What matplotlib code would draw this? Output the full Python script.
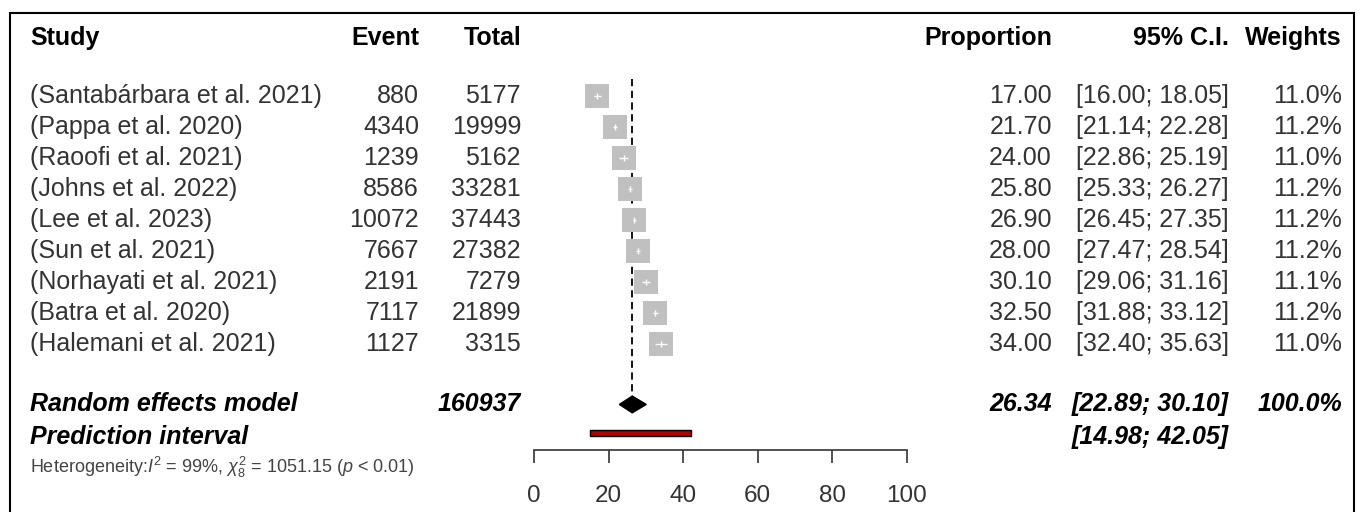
import matplotlib
matplotlib.use("Agg")
import matplotlib.pyplot as plt
from matplotlib.patches import Rectangle
from matplotlib.transforms import blended_transform_factory

plt.rcParams["font.family"] = ["Liberation Sans", "DejaVu Sans"]
plt.rcParams["mathtext.fontset"] = "custom"
plt.rcParams["mathtext.rm"] = "Liberation Sans"
plt.rcParams["mathtext.it"] = "Liberation Sans:italic"
plt.rcParams["mathtext.bf"] = "Liberation Sans:bold"

# study-level data
studies = [
    "(Santabárbara et al. 2021)",
    "(Pappa et al. 2020)",
    "(Raoofi et al. 2021)",
    "(Johns et al. 2022)",
    "(Lee et al. 2023)",
    "(Sun et al. 2021)",
    "(Norhayati et al. 2021)",
    "(Batra et al. 2020)",
    "(Halemani et al. 2021)",
]
events = [880, 4340, 1239, 8586, 10072, 7667, 2191, 7117, 1127]
totals = [5177, 19999, 5162, 33281, 37443, 27382, 7279, 21899, 3315]
props = [17.00, 21.70, 24.00, 25.80, 26.90, 28.00, 30.10, 32.50, 34.00]
ci_lo = [16.00, 21.14, 22.86, 25.33, 26.45, 27.47, 29.06, 31.88, 32.40]
ci_hi = [18.05, 22.28, 25.19, 26.27, 27.35, 28.54, 31.16, 33.12, 35.63]
weights = [11.0, 11.2, 11.0, 11.2, 11.2, 11.2, 11.1, 11.2, 11.0]

# pooled results
re_est, re_lo, re_hi = 26.34, 22.89, 30.10
pi_lo, pi_hi = 14.98, 42.05
total_n = 160937
xticks = [0, 20, 40, 60, 80, 100]

W, H = 1362, 512
fig = plt.figure(figsize=(W / 100, H / 100), dpi=100)

# forest panel: 0..100 spans pixels 534..907, rows spaced 31 px from y=96
ax = fig.add_axes([534 / W, (H - 450) / H, 373 / W, (450 - 13) / H])
ax.set_xlim(0, 100)
ax.set_ylim((450 - 96) / 31, (13 - 96) / 31)
for s in ["top", "right", "left"]:
    ax.spines[s].set_visible(False)
ax.spines["bottom"].set_bounds(0, 100)
ax.spines["bottom"].set_linewidth(1.2)
ax.spines["bottom"].set_color("#333333")
ax.set_yticks([])
ax.set_xticks(xticks)
ax.tick_params(axis="x", direction="out", length=9.5, width=1.2, colors="#333333",
               labelsize=17.5, pad=16)

rows = list(range(len(studies)))
re_row = 9.95
pi_row = 11.0

ax.vlines(re_est, -0.55, re_row - 0.2, colors="black", linewidth=1.3,
          linestyles=(0, (4, 2.5)))
ax.plot(props, rows, "s", color="#c0c0c0", markersize=17.5, markeredgewidth=0)
ax.hlines(rows, ci_lo, ci_hi, colors="white", linewidth=1)
ax.plot(props, rows, "|", color="white", markersize=5, markeredgewidth=1)

ax.fill([re_lo, re_est, re_hi, re_est],
        [re_row, re_row - 0.27, re_row, re_row + 0.27], color="black")
ax.barh(pi_row - 0.12, pi_hi - pi_lo, left=pi_lo, height=0.2,
        color="#b30000", edgecolor="black", linewidth=1)

tr = blended_transform_factory(fig.transFigure, ax.transData)
fs = 18
reg = "#333333"
off = 0.22


def put(x_px, row, s, ha="right", **kw):
    ax.text(x_px / W, row + off, s, transform=tr, ha=ha, va="baseline",
            fontsize=kw.pop("fontsize", fs), clip_on=False, **kw)


hdr = -1.85
put(30, hdr, "Study", ha="left", fontweight="bold", color="black")
put(419, hdr, "Event", fontweight="bold", color="black")
put(521, hdr, "Total", fontweight="bold", color="black")
put(1052, hdr, "Proportion", fontweight="bold", color="black")
put(1229, hdr, "95% C.I.", fontweight="bold", color="black")
put(1342, hdr, "Weights", fontweight="bold", color="black")

for i in rows:
    put(30, i, studies[i], ha="left", color=reg)
    put(419, i, f"{events[i]}", color=reg)
    put(521, i, f"{totals[i]}", color=reg)
    put(1052, i, f"{props[i]:.2f}", color=reg)
    put(1229, i, f"[{ci_lo[i]:.2f}; {ci_hi[i]:.2f}]", color=reg)
    put(1342, i, f"{weights[i]:.1f}%", color=reg)

bi = dict(fontweight="bold", fontstyle="italic", color="black")
put(30, re_row, "Random effects model", ha="left", **bi)
put(521, re_row, f"{total_n}", **bi)
put(1052, re_row, f"{re_est:.2f}", **bi)
put(1229, re_row, f"[{re_lo:.2f}; {re_hi:.2f}]", **bi)
put(1342, re_row, "100.0%", **bi)
put(30, pi_row, "Prediction interval", ha="left", **bi)
put(1229, pi_row, f"[{pi_lo:.2f}; {pi_hi:.2f}]", **bi)

put(30, 11.95, r"Heterogeneity:$I^2$ = 99%, $\chi^2_8$ = 1051.15 ($p$ < 0.01)",
    ha="left", fontsize=13, color="#444444")

fig.add_artist(Rectangle((10 / W, -0.1), (1354 - 10) / W, 1.1 - 13 / H,
                         transform=fig.transFigure, fill=False,
                         edgecolor="black", linewidth=1.5))

fig.savefig("out.png", dpi=100)
